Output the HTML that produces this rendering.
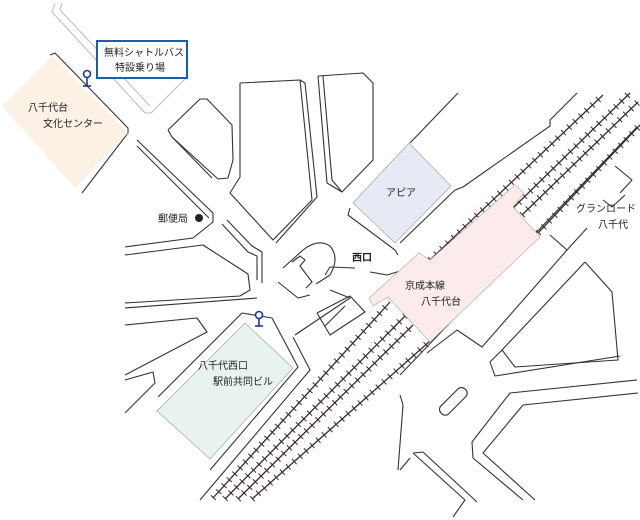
<!DOCTYPE html>
<html><head><meta charset="utf-8"><style>
html,body{margin:0;padding:0;background:#fff;}
svg{display:block;}
text{font-family:"Liberation Sans","Noto Sans CJK JP",sans-serif;font-size:10px;fill:#222;}
</style></head><body>
<svg width="640" height="520" viewBox="0 0 640 520" xmlns="http://www.w3.org/2000/svg">
<g fill="none" stroke="#bbb" stroke-width="1">
<polyline points="55,3 52,12 145,113 151,113 187,77"/>
<polyline points="62,3 60,10 150,106"/>
</g>
<g fill="none" stroke="#333" stroke-width="1.1" stroke-linejoin="round">
<polyline points="50,55 55,53 128,128 128,133 82,193"/>
<polyline points="137,140 213,213 213,222 193,238 125,247"/>
<polyline points="137,146 209,218"/>
<polyline points="168,130 200,99 207,99 232,125 233,160 228,178 218,179 172,137 168,130"/>
<polyline points="172,137 212,178"/>
<polyline points="240,83 300,80 312,200 273,240 230,193 240,177 240,83"/>
<polyline points="300,80 305,83 317,197 276,243"/>
<polyline points="318,76 363,73 373,83 373,160 342,192 327,183 318,76"/>
<polyline points="323,76 332,180 342,192"/>
<polyline points="222,224 248,252 257,256 257,280"/>
<polyline points="227,220 252,246 262,252 262,283"/>
<polyline points="125,255 203,245 248,274 250,290 240,296 125,303"/>
<polyline points="125,308 257,298"/>
<polyline points="125,325 197,318 207,332 125,375"/>
<polyline points="125,380 153,372 155,383 125,413"/>
<polyline points="158,397 242,313 272,318 298,367 210,470"/>
<polyline points="293,337 310,370 200,500"/>
<polyline points="295,335 350,298 330,290"/>
<path d="M283,268 L303,250 Q318,238 330,246 Q340,258 330,275 L316,284"/>
<path d="M292,262 L300,256 L305,260 L300,266 L312,282 L306,288"/>
<path d="M278,282 L298,298 L310,295"/>
<polyline points="317,313 350,296 365,312 330,335 317,313"/>
<line x1="325" y1="326" x2="345" y2="306"/>
<polyline points="458,93 410,143"/>
<polyline points="577,93 550,120 550,126 463,187 455,190 400,243"/>
<polyline points="350,208 348,215 395,250 398,255"/>
<polyline points="370,272 387,275 410,268"/>
<polyline points="355,268 330,267 325,275"/>
<polyline points="615,166 632,180 620,193"/>
<polyline points="603,200 612,207 625,195"/>
<polyline points="550,235 567,250 587,228"/>
<polyline points="567,250 482,347 457,330 427,353"/>
<polyline points="637,127 400,375"/>
<polyline points="585,262 612,292 618,360 515,367 502,350 585,262"/>
<polyline points="502,350 490,362 495,376 620,356"/>
<polyline points="637,380 510,393 472,442 473,458 523,500"/>
<polyline points="638,393 523,405 483,453 535,500"/>
<rect x="436" y="396" width="34" height="11" rx="5" transform="rotate(-45 453 401)"/>
<polyline points="400,395 403,405 398,470"/>
<polyline points="413,453 423,452 477,502"/>
<polyline points="413,453 465,500 453,517"/>
<polyline points="400,470 410,458"/>
</g>
<polygon points="2,106 52,56 128,133 75,188" fill="#fbf1e4"/>
<polygon points="353,203 409,143 451,186 395,243" fill="#e5eaf5" stroke="#999" stroke-width="0.6"/>
<polygon points="157,411 245,323 293,368 210,459" fill="#e8f3f1" stroke="#999" stroke-width="0.6"/>
<g stroke="#3a2a2a">
<g stroke-width="1.3">
<line x1="213" y1="498" x2="390" y2="302"/>
<line x1="225" y1="499" x2="405" y2="316"/>
<line x1="238" y1="499" x2="413" y2="325"/>
<line x1="252" y1="499" x2="430" y2="341"/>
<line x1="430" y1="260" x2="603" y2="95"/>
<line x1="513" y1="208" x2="630" y2="93"/>
<line x1="522" y1="215" x2="638" y2="102"/>
<line x1="538" y1="233" x2="640" y2="125"/>
</g>
<g stroke-width="7" stroke-dasharray="1 7">
<line x1="213" y1="498" x2="390" y2="302"/>
<line x1="225" y1="499" x2="405" y2="316"/>
<line x1="238" y1="499" x2="413" y2="325"/>
<line x1="252" y1="499" x2="430" y2="341"/>
<line x1="430" y1="260" x2="603" y2="95"/>
<line x1="513" y1="208" x2="630" y2="93"/>
<line x1="522" y1="215" x2="638" y2="102"/>
<line x1="538" y1="233" x2="640" y2="125"/>
</g>
</g>
<polygon points="369,298 419,253 430,260 515,185 524,193 513,207 540,237 430,342 388,297 373,306" fill="#fcebeb" stroke="#aaa" stroke-width="0.6"/>
<rect x="97" y="41" width="90" height="37" fill="#fff" stroke="#1a5fae" stroke-width="2"/>
<g stroke="#1a3a8e" stroke-width="1.6" fill="#fff">
<circle cx="87" cy="74" r="3.5"/><line x1="87" y1="78" x2="87" y2="86"/><line x1="83" y1="86" x2="91" y2="86"/>
<circle cx="259" cy="315" r="3.5"/><line x1="259" y1="319" x2="259" y2="326"/><line x1="255" y1="326" x2="263" y2="326"/>
</g>
<circle cx="199" cy="218" r="4" fill="#222"/>
<text x="104" y="56">無料シャトルバス</text>
<text x="115" y="71">特設乗り場</text>
<text x="28" y="111">八千代台</text>
<text x="43" y="127">文化センター</text>
<text x="158" y="222">郵便局</text>
<text x="352" y="261" font-weight="bold">西口</text>
<text x="386" y="196">アピア</text>
<text x="405" y="289">京成本線</text>
<text x="421" y="305">八千代台</text>
<text x="576" y="212">グランロード</text>
<text x="598" y="228">八千代</text>
<text x="198" y="369">八千代西口</text>
<text x="213" y="385">駅前共同ビル</text>
</svg>
</body></html>
